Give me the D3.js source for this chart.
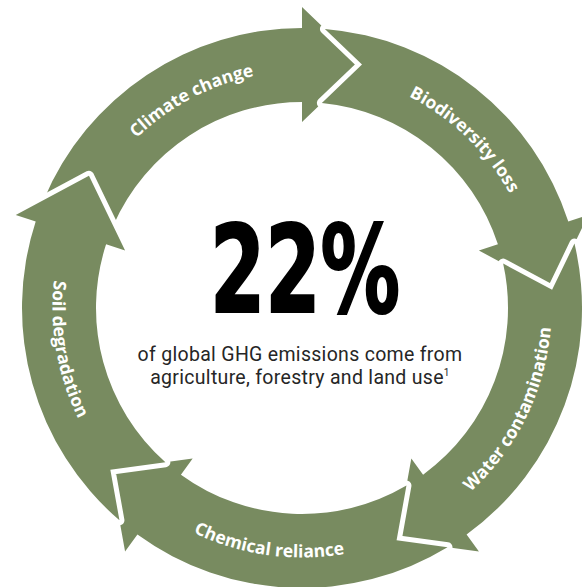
<!DOCTYPE html>
<html>
<head>
<meta charset="utf-8">
<script src="https://cdn.jsdelivr.net/npm/d3@7"></script>
<style>
  html, body { margin: 0; padding: 0; background: #ffffff; }
  svg { display: block; }
</style>
</head>
<body>
<div id="chart"></div>
<script>
// ---- data ----
const labels = ["Climate change", "Biodiversity loss", "Water contamination", "Chemical reliance", "Soil degradation"];
const headAngles = [0, 72, 144, 216, 288];          // degrees (clockwise from top) where each arrowhead begins
const labelAngles = [-28, 44, 116, 188, 260];        // degrees, centre of each label
const labelDirection = ["cw", "cw", "ccw", "ccw", "ccw"];
const headline = "22%";
const subtitleLines = ["of global GHG emissions come from", "agriculture, forestry and land use"];
const footnoteMark = "1";

// ---- layout ----
const W = 582, H = 587;
const cx = 302, cy = 308;
const rIn = 206, rOut = 280;
const headIn = 186, headOut = 301, headLen = 60;
const green = "#788b60";

const svg = d3.select("#chart").append("svg").attr("width", W).attr("height", H);
const g = svg.append("g").attr("transform", `translate(${cx},${cy})`);

const ang = d3.scaleLinear().domain([0, 360]).range([0, 2 * Math.PI]);
const pt = (phi, r) => [r * Math.sin(phi), -r * Math.cos(phi)];

function headGeom(phi) {
  const u = [Math.sin(phi), -Math.cos(phi)];
  const t = [Math.cos(phi), Math.sin(phi)];
  const rm = (headIn + headOut) / 2;
  const tip = [rm * u[0] + headLen * t[0], rm * u[1] + headLen * t[1]];
  const pOut = pt(phi, headOut), pIn = pt(phi, headIn);
  return { tip, pOut, pIn };
}
// point on segment a->b at radius R
function atRadius(a, b, R) {
  const dx = b[0] - a[0], dy = b[1] - a[1];
  const A = dx * dx + dy * dy, B = 2 * (a[0] * dx + a[1] * dy), C = a[0] * a[0] + a[1] * a[1] - R * R;
  const disc = Math.sqrt(Math.max(0, B * B - 4 * A * C));
  let s = (-B - disc) / (2 * A);
  if (s < 0 || s > 1) s = (-B + disc) / (2 * A);
  return [a[0] + s * dx, a[1] + s * dy];
}
const polarAngle = p => Math.atan2(p[0], -p[1]);

function arrowPath(i) {
  const n = headAngles.length;
  const prev = (i + n - 1) % n;
  let phiTail = ang(headAngles[prev]);
  let phiHead = ang(headAngles[i]);
  while (phiHead <= phiTail) phiHead += 2 * Math.PI;
  const ph = headGeom(phiTail);
  const co = atRadius(ph.pOut, ph.tip, rOut);
  const ci = atRadius(ph.pIn, ph.tip, rIn);
  let aCo = polarAngle(co), aCi = polarAngle(ci);
  while (aCo < phiTail - 0.01) aCo += 2 * Math.PI;
  while (aCi < phiTail - 0.01) aCi += 2 * Math.PI;
  const hh = headGeom(phiHead);
  const p = d3.path();
  p.moveTo(co[0], co[1]);
  p.arc(0, 0, rOut, aCo - Math.PI / 2, phiHead - Math.PI / 2, false);
  p.lineTo(hh.pOut[0], hh.pOut[1]);
  p.lineTo(hh.tip[0], hh.tip[1]);
  p.lineTo(hh.pIn[0], hh.pIn[1]);
  const e = pt(phiHead, rIn);
  p.lineTo(e[0], e[1]);
  p.arc(0, 0, rIn, phiHead - Math.PI / 2, aCi - Math.PI / 2, true);
  p.lineTo(ph.tip[0], ph.tip[1]);
  p.closePath();
  return p.toString();
}

g.selectAll("path.arrow")
  .data(labels)
  .join("path")
  .attr("class", "arrow")
  .attr("d", (d, i) => arrowPath(i))
  .attr("fill", green)
  .attr("stroke", "#ffffff")
  .attr("stroke-width", 10)
  .attr("stroke-linejoin", "round")
  .style("paint-order", "stroke");

// label paths
const defs = svg.append("defs");
labels.forEach((d, i) => {
  const c = ang(labelAngles[i]);
  const span = ang(70);
  const cw = labelDirection[i] === "cw";
  const r = cw ? 237 : 249.5;
  const p = d3.path();
  if (cw) {
    const s = pt(c - span, r);
    p.moveTo(s[0], s[1]);
    p.arc(0, 0, r, c - span - Math.PI / 2, c + span - Math.PI / 2, false);
  } else {
    const s = pt(c + span, r);
    p.moveTo(s[0], s[1]);
    p.arc(0, 0, r, c + span - Math.PI / 2, c - span - Math.PI / 2, true);
  }
  defs.append("path").attr("id", "lbl" + i).attr("d", p.toString());
});

g.selectAll("text.lbl")
  .data(labels)
  .join("text")
  .attr("class", "lbl")
  .attr("fill", "#ffffff")
  .attr("font-family", "'Open Sans', 'Noto Sans', sans-serif")
  .attr("font-weight", 700)
  .attr("font-size", 17.5)
  .append("textPath")
  .attr("href", (d, i) => "#lbl" + i)
  .attr("startOffset", "50%")
  .attr("text-anchor", "middle")
  .text(d => d);

// centre text
svg.append("text")
  .attr("x", 305).attr("y", 312)
  .attr("text-anchor", "middle")
  .attr("font-family", "'Liberation Sans Narrow', 'DejaVu Sans Condensed', 'Liberation Sans', sans-serif")
  .attr("font-weight", 700)
  .attr("font-size", 122)
  .attr("textLength", 190)
  .attr("lengthAdjust", "spacingAndGlyphs")
  .attr("fill", "#000")
  .attr("stroke", "#000")
  .attr("stroke-width", 2)
  .text(headline);

const sub = svg.append("text")
  .attr("text-anchor", "middle")
  .attr("font-family", "Roboto, 'Open Sans', sans-serif")
  .attr("font-size", 19.5)
  .attr("letter-spacing", 0.3)
  .attr("fill", "#262626");
subtitleLines.forEach((line, i) => {
  sub.append("tspan").attr("x", 300).attr("y", 361 + i * 23).text(line);
  if (i === subtitleLines.length - 1) {
    sub.append("tspan").attr("font-size", 10).attr("dy", -8).text(footnoteMark);
  }
});
</script>
</body>
</html>
